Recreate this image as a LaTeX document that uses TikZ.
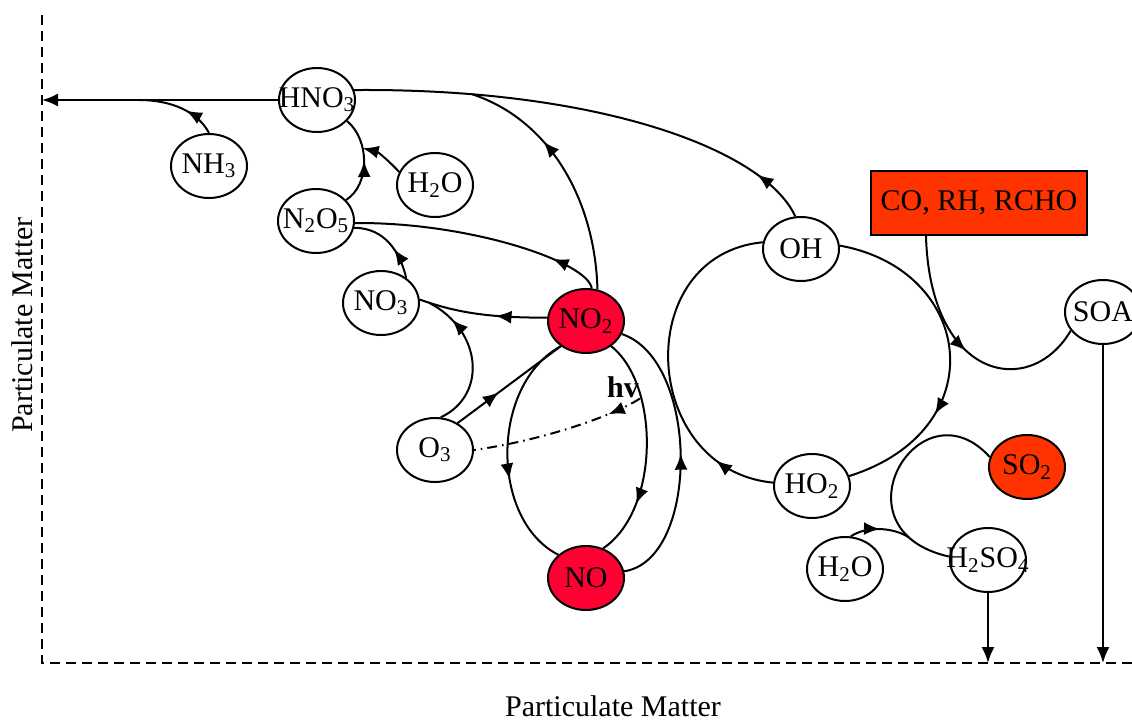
\documentclass[tikz,border=0pt]{standalone}
\usepackage{fontspec}
\setmainfont{Liberation Serif}
\usepackage{xcolor}
\usepackage{tikz}
\usetikzlibrary{arrows.meta}
\usetikzlibrary{shapes.geometric}
\usetikzlibrary{decorations.markings}

\definecolor{noxred}{RGB}{255,0,51}
\definecolor{soxred}{RGB}{255,51,0}

\begin{document}
\begin{tikzpicture}[x=0.5pt,y=-0.5pt,line width=1pt,>={Latex[length=8pt,width=6.5pt]},
		font=\fontsize{15}{18}\selectfont,
		mol/.style={ellipse,draw,fill=white,minimum width=38pt,minimum height=32pt,inner sep=0pt,
			execute at begin node={\hbox to 0pt\bgroup\hss},execute at end node={\hss\egroup}},
		midarrow/.style={postaction={decorate},decoration={markings,mark=at position #1 with {\arrow{>}}}}]
	\useasboundingbox (0,0) rectangle (1132,724);
	
	% particulate matter frame
	\coordinate (pmcorner) at (42,663);
	\draw [dash pattern=on 5pt off 3pt] (42,15) -- (pmcorner) -- (1132,663);
	\node [rotate=90] (pmleft) at (22,325) {Particulate Matter};
	\node (pmbottom) at (613,706) {Particulate Matter};
	
	% species
	\node [mol] (hno3) at (317,100) {HNO\textsubscript{3}};
	\node [mol] (nh3) at (209,166) {NH\textsubscript{3}};
	\node [mol] (h2oa) at (435,185) {H\textsubscript{2}O};
	\node [mol] (n2o5) at (316,221) {N\textsubscript{2}O\textsubscript{5}};
	\node [mol] (no3) at (381,303) {NO\textsubscript{3}};
	\node [mol,fill=noxred] (no2) at (586,321) {NO\textsubscript{2}};
	\node [mol] (o3) at (435,450) {O\textsubscript{3}};
	\node [mol,fill=noxred] (no) at (586,578) {NO};
	\node [mol] (oh) at (801,249) {OH};
	\node [draw,fill=soxred,minimum width=108pt,minimum height=32pt] (voc) at (979,203) {CO, RH, RCHO};
	\node [mol] (soa) at (1103,312) {SOA};
	\node [mol] (ho2) at (812,486) {HO\textsubscript{2}};
	\node [mol,fill=soxred] (so2) at (1027,467) {SO\textsubscript{2}};
	\node [mol] (h2ob) at (845,569) {H\textsubscript{2}O};
	\node [mol] (h2so4) at (988,560) {H\textsubscript{2}SO\textsubscript{4}};
	\node [inner sep=0pt] (hv) at (623,387) {\textbf{hv}};
	
	% nitrogen chemistry
	\draw [->] (hno3.west) -- (hno3.west -| pmcorner) coordinate [pos=0.59] (nhjoin);
	\draw [midarrow=0.4] (nh3.north) .. controls (198,112) and (172,100) .. (nhjoin);
	\draw [midarrow=0.5] (n2o5.35) .. controls (370,185) and (370,140) .. (hno3.-35) coordinate [pos=0.65] (n2o5join);
	\draw [->] (h2oa.160) .. controls (388,160) and (378,152) .. (n2o5join);
	\draw [midarrow=0.4] (no3.45) .. controls (400,252) and (385,228) .. (n2o5.-10);
	\draw [midarrow=0.2] (no2.80) .. controls (588,262) and (470,222) .. (n2o5.-3);
	\draw [midarrow=0.12] (oh.100) .. controls (765,150) and (600,88) .. (hno3.15) coordinate [pos=0.83] (ohjoin);
	\draw [midarrow=0.65] (no2.70) .. controls (595,200) and (550,120) .. (ohjoin);
	\draw [midarrow=0.4] (no2.175) .. controls (480,318) and (450,310) .. (no3.5) coordinate [pos=0.9] (no3join);
	\draw [midarrow=0.8] (o3.80) .. controls (488,395) and (482,330) .. (no3join);
	\draw [midarrow=0.4] (o3.50) -- (no2.225);
	\draw [dash pattern=on 5pt off 2.5pt on 0.8pt off 2.5pt,midarrow=0.2] (hv.south east) .. controls (615,415) and (545,440) .. (o3.east);
	\draw [midarrow=0.62] (no2.225) .. controls (490,385) and (490,520) .. (no.140);
	\draw [midarrow=0.75] (no2.-45) .. controls (660,385) and (660,510) .. (no.60);
	\draw [midarrow=0.5] (no.10) .. controls (700,560) and (700,360) .. (no2.-20);
	
	% OH / HO2 cycle
	\draw [midarrow=0.68] (oh.5) .. controls (975,270) and (995,430) .. (ho2.15);
	\draw [midarrow=0.18] (ho2.175) .. controls (640,470) and (630,255) .. (oh.170);
	\draw [midarrow=0.5] ([xshift=-26.5pt]voc.south) .. controls (930,380) and (1030,400) .. (soa.-150);
	\draw [->] (soa.south) -- (soa.south |- pmcorner);
	
	% sulfur
	\draw (so2.165) .. controls (920,380) and (830,530) .. (h2so4.175) coordinate [pos=0.85] (so4join);
	\draw [midarrow=0.5] (h2ob.80) .. controls (868,525) and (895,528) .. (so4join);
	\draw [->] (h2so4.south) -- (h2so4.south |- pmcorner);
\end{tikzpicture}
\end{document}
